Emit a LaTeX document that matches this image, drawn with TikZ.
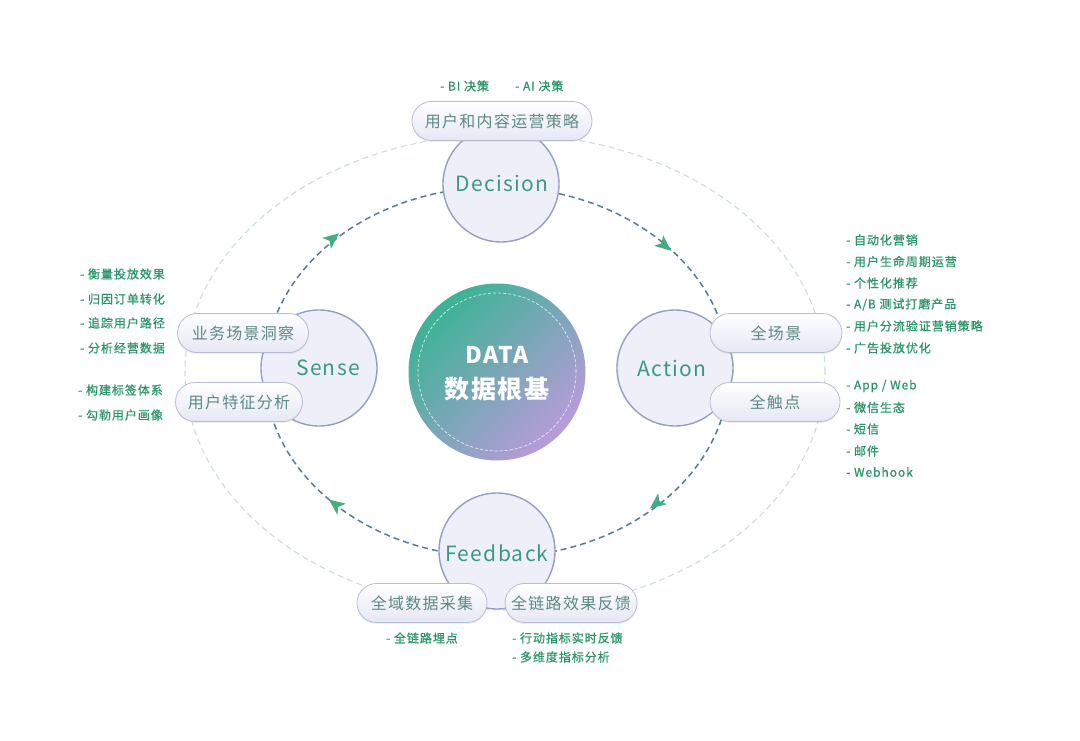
\documentclass[tikz,border=0pt]{standalone}
\usepackage{fontspec}
\setmainfont{Noto Sans CJK SC}
\newfontfamily\labfont[LetterSpace=8, FakeBold=0.8]{Noto Sans CJK SC}
\newfontfamily\tagfont[LetterSpace=8]{Noto Sans CJK SC}
\newfontfamily\circfont[LetterSpace=6]{Noto Sans CJK SC}
\newfontfamily\corefont[LetterSpace=6]{Noto Sans CJK SC}
\usetikzlibrary{shadows}
\definecolor{labgreen}{HTML}{2A9468}
\definecolor{tagtext}{HTML}{5C8A84}
\definecolor{tagborder}{HTML}{B8BCD2}
\definecolor{tagfill}{HTML}{E5E7F4}
\definecolor{circborder}{HTML}{959DC4}
\definecolor{circfill}{HTML}{EEEFF8}
\definecolor{circtext}{HTML}{3A9A80}
\definecolor{innerdash}{HTML}{5B7A8C}
\definecolor{outerdash}{HTML}{CCDCDF}
\definecolor{arrowgreen}{HTML}{45AD84}
\definecolor{cTeal}{HTML}{3AB394}
\definecolor{cBlue}{HTML}{608DD0}
\definecolor{cPurple}{HTML}{B99BDA}
\begin{document}
\begin{tikzpicture}[x=1pt,y=-1pt,
  lbl/.style={anchor=west, font=\labfont\fontsize{12}{14}\selectfont, text=labgreen, inner sep=0pt},
  tagbox/.style={rectangle, rounded corners=19.5pt, minimum height=39pt, draw=tagborder, line width=0.8pt,
     top color=white, bottom color=tagfill, font=\tagfont\fontsize{16}{18}\selectfont, text=tagtext, inner sep=0pt,
     drop shadow={shadow xshift=0pt, shadow yshift=-1.5pt, opacity=0.12}},
  stagecirc/.style={circle, minimum size=116pt, draw=circborder, line width=1.4pt, fill=circfill, inner sep=0pt},
  stagetext/.style={font=\circfont\fontsize{21}{24}\selectfont, text=circtext, inner sep=0pt},
  innerloop/.style={draw=innerdash, line width=1.5pt, dash pattern=on 6pt off 4pt},
  outerloop/.style={draw=outerdash, line width=1.1pt, dash pattern=on 6pt off 4pt},
  arrowhead/.pic={\fill[arrowgreen] (9,0) -- (-7,-7) -- (-3,0) -- (-7,7) -- cycle;}
]
\useasboundingbox (0,0) rectangle (1080,741);

% loops
\draw[outerloop] (505,372) ellipse [x radius=320pt, y radius=238pt];
\draw[innerloop] (497,372) ellipse [x radius=232pt, y radius=185pt];

% arrowheads
\pic[rotate=38.6] at (332,239) {arrowhead};
\pic[rotate=-39.9] at (664,245) {arrowhead};
\pic[rotate=218] at (657,503) {arrowhead};
\pic[rotate=142.5] at (336,505) {arrowhead};

% core
\node[circle, minimum size=177pt, inner sep=0pt,
      top color=cTeal, middle color=cBlue, bottom color=cPurple, shading angle=45] (core) at (497,372) {};
\draw[white, opacity=0.8, line width=0.7pt, dash pattern=on 3pt off 2pt] (core.center) circle [radius=79pt];
\node[font=\corefont\bfseries\fontsize{23}{26}\selectfont, text=white, inner sep=0pt] (coreA) at (497,355) {DATA};
\node[font=\corefont\bfseries\fontsize{25}{28}\selectfont, text=white, inner sep=0pt] (coreB) at (497,389) {数据根基};

% stage circles
\node[stagecirc] (dec) at (501,184) {};
\node[stagecirc] (act) at (675,368) {};
\node[stagecirc] (fb) at (497,551) {};
\node[stagecirc] (sen) at (319,368) {};

% tags
\node[tagbox, minimum width=180pt] (tDec) at (502,121) {用户和内容运营策略};
\node[tagbox, minimum width=132pt] (tAct1) at (776,333) {全场景};
\node[tagbox, minimum width=130pt] (tAct2) at (775,402) {全触点};
\node[tagbox, minimum width=131pt] (tSen1) at (243,333) {业务场景洞察};
\node[tagbox, minimum width=127pt] (tSen2) at (239,402) {用户特征分析};
\node[tagbox, minimum width=130pt] (tFb1) at (422,603) {全域数据采集};
\node[tagbox, minimum width=132pt] (tFb2) at (571,603) {全链路效果反馈};

% stage labels
\node[stagetext] (lDec) at (502,183) {Decision};
\node[stagetext] (lAct) at (672,368) {Action};
\node[stagetext] (lFb) at (497,553) {Feedback};
\node[stagetext] (lSen) at (328,368) {Sense};

% side labels: top
\node[lbl] (d1) at (440,86) {- BI 决策};
\node[lbl] (d2) at (515,86) {- AI 决策};
% right
\node[lbl] (a1) at (846,240) {- 自动化营销};
\node[lbl] (a2) at (846,261.5) {- 用户生命周期运营};
\node[lbl] (a3) at (846,283) {- 个性化推荐};
\node[lbl] (a4) at (846,304.5) {- A/B 测试打磨产品};
\node[lbl] (a5) at (846,326) {- 用户分流验证营销策略};
\node[lbl] (a6) at (846,348) {- 广告投放优化};
\node[lbl] (a7) at (846,386) {- App / Web};
\node[lbl] (a8) at (846,407.5) {- 微信生态};
\node[lbl] (a9) at (846,429) {- 短信};
\node[lbl] (a10) at (846,451) {- 邮件};
\node[lbl] (a11) at (846,472) {- Webhook};
% left
\node[lbl] (s1) at (80,274) {- 衡量投放效果};
\node[lbl] (s2) at (80,299) {- 归因订单转化};
\node[lbl] (s3) at (80,323) {- 追踪用户路径};
\node[lbl] (s4) at (80,348) {- 分析经营数据};
\node[lbl] (s5) at (78,390) {- 构建标签体系};
\node[lbl] (s6) at (78,415) {- 勾勒用户画像};
% bottom
\node[lbl] (f1) at (386,638) {- 全链路埋点};
\node[lbl] (f2) at (512,638) {- 行动指标实时反馈};
\node[lbl] (f3) at (512,657) {- 多维度指标分析};
\end{tikzpicture}
\end{document}
